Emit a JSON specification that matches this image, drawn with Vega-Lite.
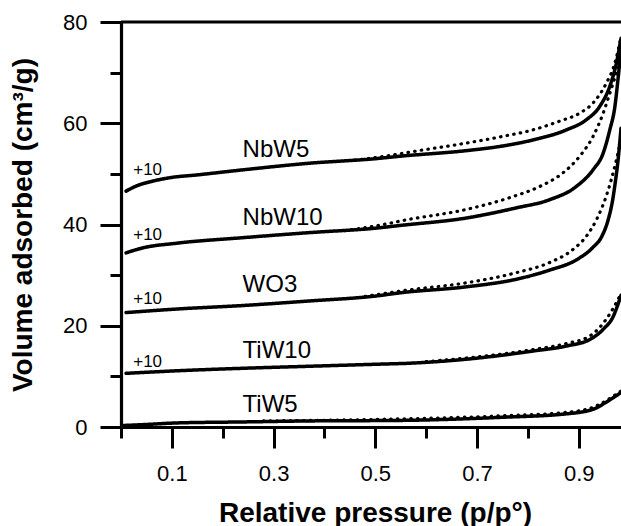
{
  "$schema": "https://vega.github.io/schema/vega-lite/v6.json",
  "width": 500,
  "height": 405,
  "autosize": {"type": "none"},
  "padding": {"left": 121, "top": 22, "right": 0, "bottom": 99},
  "background": "white",
  "config": {
    "view": {"stroke": null},
    "font": "Liberation Sans",
    "axis": {"grid": false}
  },
  "resolve": {"axis": {"x": "independent", "y": "independent"}},
  "data": {"values": [
      {"set": "curve", "sample": "NbW5", "branch": "ads", "x": 0.01, "y": 46.6},
      {"set": "curve", "sample": "NbW5", "branch": "ads", "x": 0.03, "y": 47.6},
      {"set": "curve", "sample": "NbW5", "branch": "ads", "x": 0.06, "y": 48.5},
      {"set": "curve", "sample": "NbW5", "branch": "ads", "x": 0.1, "y": 49.3},
      {"set": "curve", "sample": "NbW5", "branch": "ads", "x": 0.15, "y": 49.8},
      {"set": "curve", "sample": "NbW5", "branch": "ads", "x": 0.24, "y": 50.8},
      {"set": "curve", "sample": "NbW5", "branch": "ads", "x": 0.37, "y": 52.1},
      {"set": "curve", "sample": "NbW5", "branch": "ads", "x": 0.5, "y": 53.0},
      {"set": "curve", "sample": "NbW5", "branch": "ads", "x": 0.55, "y": 53.5},
      {"set": "curve", "sample": "NbW5", "branch": "ads", "x": 0.68, "y": 54.6},
      {"set": "curve", "sample": "NbW5", "branch": "ads", "x": 0.75, "y": 55.5},
      {"set": "curve", "sample": "NbW5", "branch": "ads", "x": 0.81, "y": 56.7},
      {"set": "curve", "sample": "NbW5", "branch": "ads", "x": 0.876, "y": 58.7},
      {"set": "curve", "sample": "NbW5", "branch": "ads", "x": 0.915, "y": 60.7},
      {"set": "curve", "sample": "NbW5", "branch": "ads", "x": 0.941, "y": 63.3},
      {"set": "curve", "sample": "NbW5", "branch": "ads", "x": 0.961, "y": 67.3},
      {"set": "curve", "sample": "NbW5", "branch": "ads", "x": 0.974, "y": 71.9},
      {"set": "curve", "sample": "NbW5", "branch": "ads", "x": 0.983, "y": 76.8},
      {"set": "curve", "sample": "NbW5", "branch": "des", "x": 0.46, "y": 52.7},
      {"set": "curve", "sample": "NbW5", "branch": "des", "x": 0.52, "y": 53.5},
      {"set": "curve", "sample": "NbW5", "branch": "des", "x": 0.58, "y": 54.5},
      {"set": "curve", "sample": "NbW5", "branch": "des", "x": 0.68, "y": 56.1},
      {"set": "curve", "sample": "NbW5", "branch": "des", "x": 0.745, "y": 57.3},
      {"set": "curve", "sample": "NbW5", "branch": "des", "x": 0.81, "y": 58.7},
      {"set": "curve", "sample": "NbW5", "branch": "des", "x": 0.862, "y": 60.4},
      {"set": "curve", "sample": "NbW5", "branch": "des", "x": 0.902, "y": 62.0},
      {"set": "curve", "sample": "NbW5", "branch": "des", "x": 0.928, "y": 64.0},
      {"set": "curve", "sample": "NbW5", "branch": "des", "x": 0.954, "y": 67.9},
      {"set": "curve", "sample": "NbW5", "branch": "des", "x": 0.971, "y": 71.9},
      {"set": "curve", "sample": "NbW5", "branch": "des", "x": 0.983, "y": 77.0},
      {"set": "curve", "sample": "NbW10", "branch": "ads", "x": 0.01, "y": 34.4},
      {"set": "curve", "sample": "NbW10", "branch": "ads", "x": 0.044, "y": 35.4},
      {"set": "curve", "sample": "NbW10", "branch": "ads", "x": 0.109, "y": 36.3},
      {"set": "curve", "sample": "NbW10", "branch": "ads", "x": 0.24, "y": 37.4},
      {"set": "curve", "sample": "NbW10", "branch": "ads", "x": 0.371, "y": 38.4},
      {"set": "curve", "sample": "NbW10", "branch": "ads", "x": 0.503, "y": 39.3},
      {"set": "curve", "sample": "NbW10", "branch": "ads", "x": 0.548, "y": 39.8},
      {"set": "curve", "sample": "NbW10", "branch": "ads", "x": 0.68, "y": 41.3},
      {"set": "curve", "sample": "NbW10", "branch": "ads", "x": 0.778, "y": 43.3},
      {"set": "curve", "sample": "NbW10", "branch": "ads", "x": 0.843, "y": 44.9},
      {"set": "curve", "sample": "NbW10", "branch": "ads", "x": 0.895, "y": 47.5},
      {"set": "curve", "sample": "NbW10", "branch": "ads", "x": 0.928, "y": 50.8},
      {"set": "curve", "sample": "NbW10", "branch": "ads", "x": 0.948, "y": 54.1},
      {"set": "curve", "sample": "NbW10", "branch": "ads", "x": 0.961, "y": 58.7},
      {"set": "curve", "sample": "NbW10", "branch": "ads", "x": 0.971, "y": 63.3},
      {"set": "curve", "sample": "NbW10", "branch": "ads", "x": 0.977, "y": 68.6},
      {"set": "curve", "sample": "NbW10", "branch": "ads", "x": 0.983, "y": 74.5},
      {"set": "curve", "sample": "NbW10", "branch": "des", "x": 0.44, "y": 38.8},
      {"set": "curve", "sample": "NbW10", "branch": "des", "x": 0.5, "y": 39.7},
      {"set": "curve", "sample": "NbW10", "branch": "des", "x": 0.56, "y": 40.9},
      {"set": "curve", "sample": "NbW10", "branch": "des", "x": 0.68, "y": 43.0},
      {"set": "curve", "sample": "NbW10", "branch": "des", "x": 0.764, "y": 45.3},
      {"set": "curve", "sample": "NbW10", "branch": "des", "x": 0.823, "y": 47.5},
      {"set": "curve", "sample": "NbW10", "branch": "des", "x": 0.869, "y": 50.2},
      {"set": "curve", "sample": "NbW10", "branch": "des", "x": 0.902, "y": 53.5},
      {"set": "curve", "sample": "NbW10", "branch": "des", "x": 0.928, "y": 57.4},
      {"set": "curve", "sample": "NbW10", "branch": "des", "x": 0.948, "y": 62.0},
      {"set": "curve", "sample": "NbW10", "branch": "des", "x": 0.961, "y": 65.9},
      {"set": "curve", "sample": "NbW10", "branch": "des", "x": 0.974, "y": 69.9},
      {"set": "curve", "sample": "NbW10", "branch": "des", "x": 0.983, "y": 72.5},
      {"set": "curve", "sample": "WO3", "branch": "ads", "x": 0.01, "y": 22.6},
      {"set": "curve", "sample": "WO3", "branch": "ads", "x": 0.109, "y": 23.3},
      {"set": "curve", "sample": "WO3", "branch": "ads", "x": 0.24, "y": 24.0},
      {"set": "curve", "sample": "WO3", "branch": "ads", "x": 0.371, "y": 24.9},
      {"set": "curve", "sample": "WO3", "branch": "ads", "x": 0.503, "y": 25.9},
      {"set": "curve", "sample": "WO3", "branch": "ads", "x": 0.548, "y": 26.5},
      {"set": "curve", "sample": "WO3", "branch": "ads", "x": 0.68, "y": 27.7},
      {"set": "curve", "sample": "WO3", "branch": "ads", "x": 0.778, "y": 29.2},
      {"set": "curve", "sample": "WO3", "branch": "ads", "x": 0.843, "y": 31.0},
      {"set": "curve", "sample": "WO3", "branch": "ads", "x": 0.895, "y": 33.0},
      {"set": "curve", "sample": "WO3", "branch": "ads", "x": 0.928, "y": 35.5},
      {"set": "curve", "sample": "WO3", "branch": "ads", "x": 0.945, "y": 37.6},
      {"set": "curve", "sample": "WO3", "branch": "ads", "x": 0.958, "y": 41.0},
      {"set": "curve", "sample": "WO3", "branch": "ads", "x": 0.966, "y": 44.5},
      {"set": "curve", "sample": "WO3", "branch": "ads", "x": 0.972, "y": 48.5},
      {"set": "curve", "sample": "WO3", "branch": "ads", "x": 0.977, "y": 52.5},
      {"set": "curve", "sample": "WO3", "branch": "ads", "x": 0.983, "y": 59.0},
      {"set": "curve", "sample": "WO3", "branch": "des", "x": 0.48, "y": 25.8},
      {"set": "curve", "sample": "WO3", "branch": "des", "x": 0.56, "y": 27.0},
      {"set": "curve", "sample": "WO3", "branch": "des", "x": 0.68, "y": 28.5},
      {"set": "curve", "sample": "WO3", "branch": "des", "x": 0.778, "y": 30.5},
      {"set": "curve", "sample": "WO3", "branch": "des", "x": 0.843, "y": 32.5},
      {"set": "curve", "sample": "WO3", "branch": "des", "x": 0.889, "y": 35.1},
      {"set": "curve", "sample": "WO3", "branch": "des", "x": 0.915, "y": 37.7},
      {"set": "curve", "sample": "WO3", "branch": "des", "x": 0.935, "y": 41.0},
      {"set": "curve", "sample": "WO3", "branch": "des", "x": 0.954, "y": 45.6},
      {"set": "curve", "sample": "WO3", "branch": "des", "x": 0.974, "y": 52.8},
      {"set": "curve", "sample": "WO3", "branch": "des", "x": 0.983, "y": 56.8},
      {"set": "curve", "sample": "TiW10", "branch": "ads", "x": 0.01, "y": 10.6},
      {"set": "curve", "sample": "TiW10", "branch": "ads", "x": 0.109, "y": 11.1},
      {"set": "curve", "sample": "TiW10", "branch": "ads", "x": 0.24, "y": 11.6},
      {"set": "curve", "sample": "TiW10", "branch": "ads", "x": 0.371, "y": 12.0},
      {"set": "curve", "sample": "TiW10", "branch": "ads", "x": 0.503, "y": 12.4},
      {"set": "curve", "sample": "TiW10", "branch": "ads", "x": 0.568, "y": 12.6},
      {"set": "curve", "sample": "TiW10", "branch": "ads", "x": 0.68, "y": 13.4},
      {"set": "curve", "sample": "TiW10", "branch": "ads", "x": 0.81, "y": 15.0},
      {"set": "curve", "sample": "TiW10", "branch": "ads", "x": 0.876, "y": 16.0},
      {"set": "curve", "sample": "TiW10", "branch": "ads", "x": 0.922, "y": 17.3},
      {"set": "curve", "sample": "TiW10", "branch": "ads", "x": 0.948, "y": 19.3},
      {"set": "curve", "sample": "TiW10", "branch": "ads", "x": 0.968, "y": 21.9},
      {"set": "curve", "sample": "TiW10", "branch": "ads", "x": 0.977, "y": 24.2},
      {"set": "curve", "sample": "TiW10", "branch": "ads", "x": 0.983, "y": 26.0},
      {"set": "curve", "sample": "TiW10", "branch": "des", "x": 0.6, "y": 12.9},
      {"set": "curve", "sample": "TiW10", "branch": "des", "x": 0.81, "y": 15.3},
      {"set": "curve", "sample": "TiW10", "branch": "des", "x": 0.876, "y": 16.5},
      {"set": "curve", "sample": "TiW10", "branch": "des", "x": 0.922, "y": 18.0},
      {"set": "curve", "sample": "TiW10", "branch": "des", "x": 0.954, "y": 21.3},
      {"set": "curve", "sample": "TiW10", "branch": "des", "x": 0.974, "y": 24.6},
      {"set": "curve", "sample": "TiW10", "branch": "des", "x": 0.983, "y": 26.4},
      {"set": "curve", "sample": "TiW5", "branch": "ads", "x": 0.005, "y": 0.3},
      {"set": "curve", "sample": "TiW5", "branch": "ads", "x": 0.05, "y": 0.5},
      {"set": "curve", "sample": "TiW5", "branch": "ads", "x": 0.109, "y": 0.8},
      {"set": "curve", "sample": "TiW5", "branch": "ads", "x": 0.24, "y": 1.0},
      {"set": "curve", "sample": "TiW5", "branch": "ads", "x": 0.371, "y": 1.2},
      {"set": "curve", "sample": "TiW5", "branch": "ads", "x": 0.548, "y": 1.3},
      {"set": "curve", "sample": "TiW5", "branch": "ads", "x": 0.745, "y": 1.9},
      {"set": "curve", "sample": "TiW5", "branch": "ads", "x": 0.876, "y": 2.6},
      {"set": "curve", "sample": "TiW5", "branch": "ads", "x": 0.928, "y": 3.5},
      {"set": "curve", "sample": "TiW5", "branch": "ads", "x": 0.954, "y": 4.9},
      {"set": "curve", "sample": "TiW5", "branch": "ads", "x": 0.974, "y": 6.2},
      {"set": "curve", "sample": "TiW5", "branch": "ads", "x": 0.983, "y": 6.8},
      {"set": "curve", "sample": "TiW5", "branch": "des", "x": 0.28, "y": 1.2},
      {"set": "curve", "sample": "TiW5", "branch": "des", "x": 0.5, "y": 1.5},
      {"set": "curve", "sample": "TiW5", "branch": "des", "x": 0.745, "y": 2.2},
      {"set": "curve", "sample": "TiW5", "branch": "des", "x": 0.876, "y": 2.9},
      {"set": "curve", "sample": "TiW5", "branch": "des", "x": 0.928, "y": 3.9},
      {"set": "curve", "sample": "TiW5", "branch": "des", "x": 0.954, "y": 5.2},
      {"set": "curve", "sample": "TiW5", "branch": "des", "x": 0.974, "y": 6.5},
      {"set": "curve", "sample": "TiW5", "branch": "des", "x": 0.983, "y": 7.1},
      {"set": "name", "x": 0.239, "y": 54.8, "text": "NbW5"},
      {"set": "name", "x": 0.239, "y": 41.3, "text": "NbW10"},
      {"set": "name", "x": 0.239, "y": 28.0, "text": "WO3"},
      {"set": "name", "x": 0.239, "y": 15.1, "text": "TiW10"},
      {"set": "name", "x": 0.239, "y": 4.4, "text": "TiW5"},
      {"set": "offset", "x": 0.024, "y": 50.8, "text": "+10"},
      {"set": "offset", "x": 0.024, "y": 37.9, "text": "+10"},
      {"set": "offset", "x": 0.024, "y": 25.2, "text": "+10"},
      {"set": "offset", "x": 0.024, "y": 12.9, "text": "+10"},
      {"set": "frame", "x": 0.5, "y": 80}
  ]},
  "layer": [
    {
      "transform": [{"filter": "datum.set === 'frame'"}],
      "mark": {"type": "point", "opacity": 0},
      "encoding": {
        "x": {
          "field": "x", "type": "quantitative",
          "scale": {"domain": [0, 0.983], "nice": false},
          "axis": {
            "values": [0.1, 0.3, 0.5, 0.7, 0.9],
            "tickColor": "black", "tickWidth": 3, "tickSize": 21,
            "domainColor": "black", "domainWidth": 3.2,
            "labelBaseline": "alphabetic", "labelPadding": 32, "labelFlush": false, "labelOverlap": false,
            "labelFontSize": 22, "labelColor": "black",
            "title": "Relative pressure (p/p°)",
            "titleFontSize": 28, "titleFontWeight": "bold", "titleColor": "black",
            "titleX": 254, "titleY": 94, "titleBaseline": "alphabetic"
          }
        },
        "y": {
          "field": "y", "type": "quantitative",
          "scale": {"domain": [0, 80], "nice": false},
          "axis": {
            "values": [0, 20, 40, 60, 80],
            "tickColor": "black", "tickWidth": 3, "tickSize": 21,
            "domainColor": "black", "domainWidth": 3.2,
            "labelPadding": 13, "labelFlush": false, "labelOverlap": false,
            "labelFontSize": 22, "labelColor": "black",
            "title": "Volume adsorbed (cm³/g)",
            "titleFontSize": 28, "titleFontWeight": "bold", "titleColor": "black",
            "titleX": -90, "titleY": 202.5, "titleBaseline": "alphabetic"
          }
        }
      }
    },
    {
      "transform": [{"filter": "datum.set === 'frame'"}],
      "mark": {"type": "point", "opacity": 0},
      "encoding": {
        "x": {
          "field": "x", "type": "quantitative",
          "axis": {"orient": "bottom", "values": [0, 0.2, 0.4, 0.6, 0.8], "labels": false, "domain": false, "title": null, "tickColor": "black", "tickWidth": 3, "tickSize": 11}
        },
        "y": {
          "field": "y", "type": "quantitative",
          "axis": {"orient": "left", "values": [10, 30, 50, 70], "labels": false, "domain": false, "title": null, "tickColor": "black", "tickWidth": 3, "tickSize": 11}
        }
      }
    },
    {
      "transform": [{"filter": "datum.set === 'curve'"}],
      "mark": {"type": "line", "color": "black", "strokeCap": "round", "interpolate": "monotone"},
      "encoding": {
        "x": {"field": "x", "type": "quantitative", "axis": null},
        "y": {"field": "y", "type": "quantitative", "axis": null},
        "detail": {"field": "sample"},
        "strokeDash": {"field": "branch", "type": "nominal", "scale": {"domain": ["ads", "des"], "range": [[1, 0], [0.5, 6.2]]}, "legend": null},
        "strokeWidth": {"field": "branch", "type": "nominal", "scale": {"domain": ["ads", "des"], "range": [3.5, 3.2]}, "legend": null}
      }
    },
    {
      "transform": [{"filter": "datum.set === 'frame'"}],
      "mark": {"type": "rule", "color": "black", "strokeWidth": 3.2},
      "encoding": {"y": {"field": "y", "type": "quantitative", "axis": null}}
    },
    {
      "transform": [{"filter": "datum.set === 'name'"}],
      "mark": {"type": "text", "align": "left", "baseline": "middle", "fontSize": 24, "color": "black"},
      "encoding": {
        "x": {"field": "x", "type": "quantitative", "axis": null},
        "y": {"field": "y", "type": "quantitative", "axis": null},
        "text": {"field": "text"}
      }
    },
    {
      "transform": [{"filter": "datum.set === 'offset'"}],
      "mark": {"type": "text", "align": "left", "baseline": "middle", "fontSize": 17, "color": "black"},
      "encoding": {
        "x": {"field": "x", "type": "quantitative", "axis": null},
        "y": {"field": "y", "type": "quantitative", "axis": null},
        "text": {"field": "text"}
      }
    }
  ]
}
